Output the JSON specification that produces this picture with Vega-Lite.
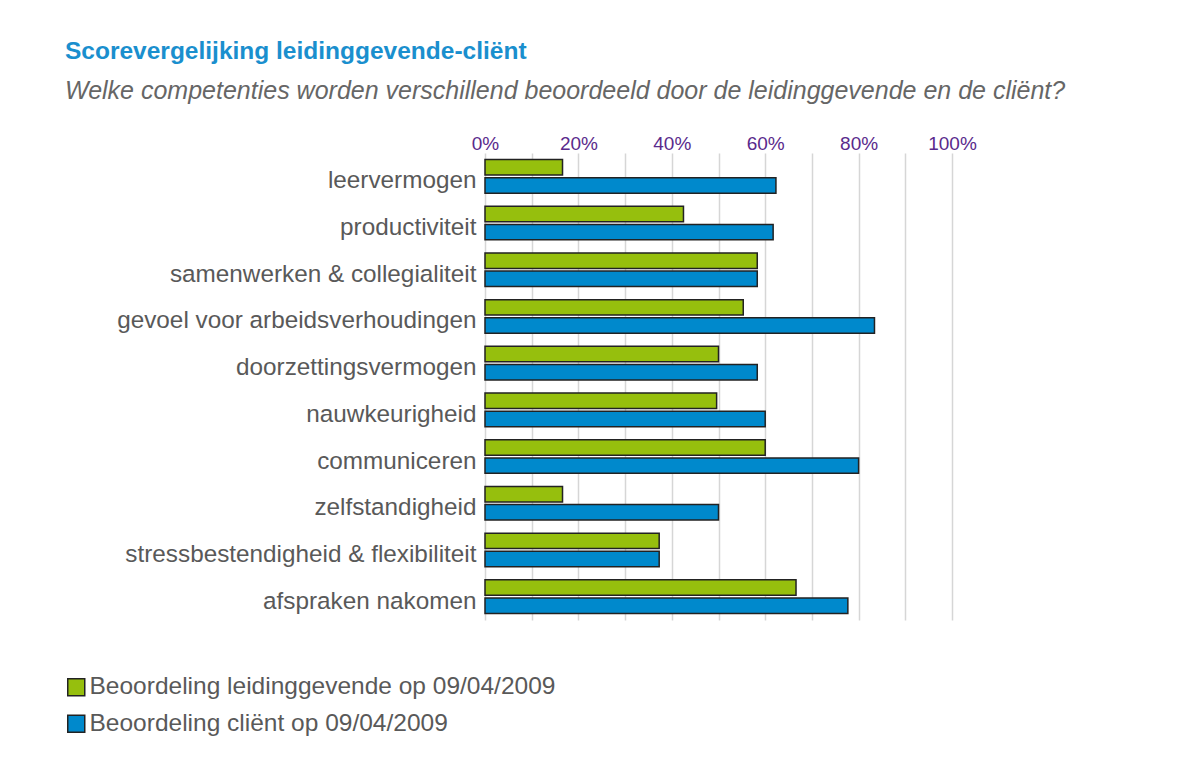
{
  "$schema": "https://vega.github.io/schema/vega-lite/v6.json",
  "autosize": {"type": "none"},
  "width": 467,
  "height": 467,
  "padding": {"left": 485, "top": 153, "right": 235, "bottom": 140},
  "background": "white",
  "title": {
    "text": "Scorevergelijking leidinggevende-cliënt",
    "subtitle": "Welke competenties worden verschillend beoordeeld door de leidinggevende en de cliënt?",
    "anchor": "start",
    "frame": "group",
    "dx": -420,
    "offset": 29,
    "font": "Liberation Sans",
    "fontSize": 24.5,
    "fontWeight": "bold",
    "color": "#1a8fce",
    "subtitleFont": "Liberation Sans",
    "subtitleFontSize": 25,
    "subtitleFontStyle": "italic",
    "subtitleColor": "#666666",
    "subtitlePadding": 15
  },
  "data": {
    "values": [
      {"competentie": "leervermogen", "reeks": "Beoordeling leidinggevende op 09/04/2009", "waarde": 16.6},
      {"competentie": "leervermogen", "reeks": "Beoordeling cliënt op 09/04/2009", "waarde": 62.3},
      {"competentie": "productiviteit", "reeks": "Beoordeling leidinggevende op 09/04/2009", "waarde": 42.5},
      {"competentie": "productiviteit", "reeks": "Beoordeling cliënt op 09/04/2009", "waarde": 61.7},
      {"competentie": "samenwerken & collegialiteit", "reeks": "Beoordeling leidinggevende op 09/04/2009", "waarde": 58.3},
      {"competentie": "samenwerken & collegialiteit", "reeks": "Beoordeling cliënt op 09/04/2009", "waarde": 58.3},
      {"competentie": "gevoel voor arbeidsverhoudingen", "reeks": "Beoordeling leidinggevende op 09/04/2009", "waarde": 55.3},
      {"competentie": "gevoel voor arbeidsverhoudingen", "reeks": "Beoordeling cliënt op 09/04/2009", "waarde": 83.4},
      {"competentie": "doorzettingsvermogen", "reeks": "Beoordeling leidinggevende op 09/04/2009", "waarde": 50.0},
      {"competentie": "doorzettingsvermogen", "reeks": "Beoordeling cliënt op 09/04/2009", "waarde": 58.3},
      {"competentie": "nauwkeurigheid", "reeks": "Beoordeling leidinggevende op 09/04/2009", "waarde": 49.6},
      {"competentie": "nauwkeurigheid", "reeks": "Beoordeling cliënt op 09/04/2009", "waarde": 60.0},
      {"competentie": "communiceren", "reeks": "Beoordeling leidinggevende op 09/04/2009", "waarde": 60.0},
      {"competentie": "communiceren", "reeks": "Beoordeling cliënt op 09/04/2009", "waarde": 80.0},
      {"competentie": "zelfstandigheid", "reeks": "Beoordeling leidinggevende op 09/04/2009", "waarde": 16.6},
      {"competentie": "zelfstandigheid", "reeks": "Beoordeling cliënt op 09/04/2009", "waarde": 50.0},
      {"competentie": "stressbestendigheid & flexibiliteit", "reeks": "Beoordeling leidinggevende op 09/04/2009", "waarde": 37.3},
      {"competentie": "stressbestendigheid & flexibiliteit", "reeks": "Beoordeling cliënt op 09/04/2009", "waarde": 37.3},
      {"competentie": "afspraken nakomen", "reeks": "Beoordeling leidinggevende op 09/04/2009", "waarde": 66.6},
      {"competentie": "afspraken nakomen", "reeks": "Beoordeling cliënt op 09/04/2009", "waarde": 77.7}
    ]
  },
  "mark": {"type": "bar", "stroke": "#222222", "strokeWidth": 1.5},
  "encoding": {
    "y": {
      "field": "competentie",
      "type": "nominal",
      "sort": null,
      "title": null,
      "scale": {"paddingInner": 0.28, "paddingOuter": 0.14},
      "axis": {
        "domain": false,
        "ticks": false,
        "grid": false,
        "labelPadding": 9,
        "labelOffset": 5,
        "labelFont": "Liberation Sans",
        "labelFontSize": 24.3,
        "labelColor": "#595959",
        "labelLimit": 500
      }
    },
    "yOffset": {
      "field": "reeks",
      "type": "nominal",
      "sort": ["Beoordeling leidinggevende op 09/04/2009", "Beoordeling cliënt op 09/04/2009"],
      "scale": {"paddingInner": 0.15}
    },
    "x": {
      "field": "waarde",
      "type": "quantitative",
      "title": null,
      "scale": {"domain": [0, 100], "nice": false},
      "axis": {
        "orient": "top",
        "values": [0, 10, 20, 30, 40, 50, 60, 70, 80, 90, 100],
        "labelExpr": "datum.value % 20 == 0 ? datum.value + '%' : ''",
        "domain": false,
        "ticks": false,
        "grid": true,
        "gridColor": "#d6d6d6",
        "gridWidth": 1.5,
        "labelPadding": 0,
        "labelDx": 10,
        "labelFont": "Liberation Sans",
        "labelFontSize": 19,
        "labelColor": "#5a2a8c",
        "labelOverlap": false,
        "labelBound": false,
        "labelFlush": false
      }
    },
    "color": {
      "field": "reeks",
      "type": "nominal",
      "title": null,
      "scale": {
        "domain": ["Beoordeling leidinggevende op 09/04/2009", "Beoordeling cliënt op 09/04/2009"],
        "range": ["#96bf0d", "#0089cc"]
      },
      "legend": {
        "orient": "none",
        "legendX": -421,
        "legendY": 522,
        "direction": "vertical",
        "padding": 0,
        "symbolType": "square",
        "symbolSize": 289,
        "symbolStrokeColor": "#222222",
        "symbolStrokeWidth": 1.5,
        "symbolOpacity": 1,
        "labelFont": "Liberation Sans",
        "labelFontSize": 24.5,
        "labelColor": "#595959",
        "labelOffset": 1,
        "labelLimit": 700,
        "rowPadding": 11.5
      }
    }
  },
  "config": {"view": {"stroke": null}}
}
